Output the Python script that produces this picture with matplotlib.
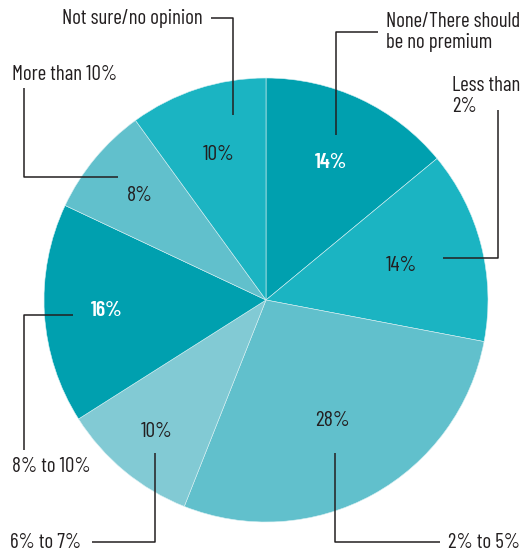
import numpy as np
import matplotlib.pyplot as plt
from matplotlib import font_manager

categories = ["None/There should\nbe no premium", "Less than\n2%", "2% to 5%", "6% to 7%",
              "8% to 10%", "More than 10%", "Not sure/no opinion"]
values = [14, 14, 28, 10, 16, 8, 10]
pct_labels = ["14%", "14%", "28%", "10%", "16%", "8%", "10%"]

COLORS = ["#00A0AF", "#1BB4C2", "#61C0CC", "#82CAD4", "#00A0AF", "#61C0CC", "#1BB4C2"]
PCT_COLORS = ["white", "#231F20", "#231F20", "#231F20", "white", "#231F20", "#231F20"]
PCT_BOLD = [True, False, False, False, True, False, False]
PCT_R = [0.685, 0.63, 0.62, 0.77, 0.72, 0.74, 0.69]
INK = "#231F20"

names = {f.name for f in font_manager.fontManager.ttflist}
FONT = ["Barlow Condensed", "DejaVu Sans"] if "Barlow Condensed" in names else ["DejaVu Sans"]
plt.rcParams["font.family"] = FONT

W, H = 524, 552
fig = plt.figure(figsize=(W / 100, H / 100), dpi=100)
ax = fig.add_axes([0, 0, 1, 1])

cx, cy, R = 266, H - 300, 222
wedges, _ = ax.pie(values, colors=COLORS, startangle=90, counterclock=False,
                   center=(cx, cy), radius=R, frame=True,
                   wedgeprops=dict(edgecolor="#d8f0f3", linewidth=0.4))
ax.set_xlim(0, W)
ax.set_ylim(0, H)
ax.axis("off")

for w, lab, col, bold, r in zip(wedges, pct_labels, PCT_COLORS, PCT_BOLD, PCT_R):
    ang = np.deg2rad((w.theta1 + w.theta2) / 2)
    ax.text(cx + r * R * np.cos(ang), cy + r * R * np.sin(ang), lab, color=col,
            fontsize=15.5, fontweight="semibold" if bold else "normal", ha="center", va="center")

# leader lines in pixel coordinates (x, y from top)
leaders = [
    [(378, 32), (336, 32), (336, 135)],
    [(498, 110), (498, 258), (443, 258)],
    [(335, 453), (335, 542), (440, 542)],
    [(155, 453), (155, 542), (92, 542)],
    [(73, 315), (24, 315), (24, 450)],
    [(24, 88), (24, 177), (118, 177)],
    [(211, 18), (233, 18), (233, 115)],
]
for pts in leaders:
    xs = [p[0] for p in pts]
    ys = [H - p[1] for p in pts]
    ax.plot(xs, ys, color=INK, lw=1.1, solid_capstyle="butt")

label_pos = [(386, 32), (452, 96), (448, 543), (10, 543), (12, 467), (12, 75), (62, 18)]
for (x, y), lab in zip(label_pos, categories):
    ax.text(x, H - y, lab, color=INK, fontsize=15, ha="left", va="center", linespacing=1.08)

plt.savefig("out.png", dpi=100, facecolor="white")
plt.close()
